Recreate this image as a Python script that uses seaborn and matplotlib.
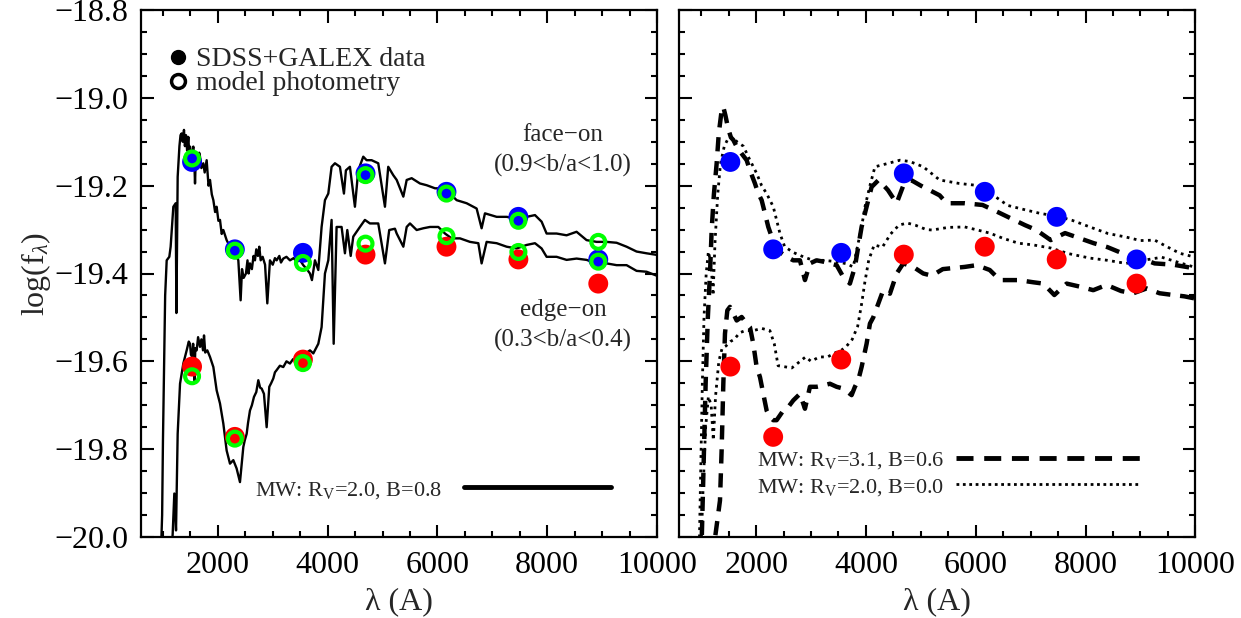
import matplotlib
matplotlib.use("Agg")
import matplotlib.pyplot as plt
import seaborn as sns
import pandas as pd
from matplotlib.lines import Line2D
from matplotlib.ticker import MultipleLocator, FuncFormatter

# ---------------- data ----------------
band_lam = [1530, 2310, 3550, 4690, 6165, 7475, 8930]   # FUV NUV u g r i z
face_obs = [-19.146, -19.345, -19.353, -19.172, -19.214, -19.271, -19.368]
face_mod = [-19.138, -19.348, -19.376, -19.176, -19.218, -19.280, -19.328]
edge_obs = [-19.612, -19.772, -19.596, -19.357, -19.339, -19.368, -19.423]
edge_mod = [-19.634, -19.776, -19.604, -19.332, -19.315, -19.351, -19.373]

# left panel: MW Rv=2.0, B=0.8 model spectra
lamL_face = [960, 985, 1000, 1020, 1040, 1068, 1116, 1140, 1189, 1232, 1245, 1268, 1300, 1320,
             1341, 1360, 1383, 1400, 1420, 1440, 1462, 1480, 1493, 1510, 1523, 1540, 1553,
             1570, 1584, 1600, 1614, 1640, 1660, 1675, 1700, 1735, 1760, 1796, 1830, 1857,
             1890, 1918, 1950, 1978, 2010, 2039, 2070, 2100, 2160, 2221, 2312, 2373, 2415,
             2440, 2470, 2512, 2540, 2560, 2585, 2620, 2650, 2676, 2700, 2730, 2755, 2780,
             2816, 2860, 2901, 2949, 3000, 3040, 3071, 3120, 3150, 3192, 3250, 3314, 3380,
             3435, 3500, 3556, 3620, 3678, 3714, 3769, 3830, 3890, 3951, 4012, 4072, 4133,
             4224, 4297, 4333, 4406, 4497, 4558, 4649, 4710, 4801, 4922, 5044, 5104, 5195,
             5258, 5379, 5440, 5531, 5682, 5804, 5956, 6107, 6229, 6350, 6532, 6714, 6805,
             6866, 7079, 7261, 7443, 7625, 7777, 7898, 7989, 8171, 8353, 8535, 8717, 8900,
             9082, 9264, 9446, 9628, 9810, 10016]
fL_face = [-20.05, -19.95, -19.78, -19.62, -19.45, -19.370, -19.362, -19.339, -19.248, -19.240,
           -19.490, -19.180, -19.110, -19.085, -19.081, -19.100, -19.073, -19.110, -19.085,
           -19.120, -19.089, -19.130, -19.111, -19.150, -19.142, -19.120, -19.111, -19.140,
           -19.195, -19.130, -19.127, -19.150, -19.125, -19.134, -19.160, -19.149, -19.170,
           -19.142, -19.200, -19.187, -19.220, -19.233, -19.260, -19.248, -19.280, -19.278,
           -19.310, -19.301, -19.324, -19.339, -19.351, -19.370, -19.461, -19.390, -19.410,
           -19.400, -19.370, -19.400, -19.377, -19.390, -19.360, -19.370, -19.345, -19.360,
           -19.339, -19.370, -19.362, -19.380, -19.468, -19.370, -19.380, -19.365, -19.370,
           -19.360, -19.375, -19.366, -19.362, -19.370, -19.365, -19.373, -19.370, -19.381,
           -19.390, -19.400, -19.415, -19.370, -19.392, -19.294, -19.233, -19.218, -19.157,
           -19.149, -19.157, -19.218, -19.165, -19.157, -19.248, -19.165, -19.134, -19.142,
           -19.142, -19.149, -19.248, -19.157, -19.176, -19.187, -19.225, -19.187, -19.183,
           -19.195, -19.199, -19.206, -19.206, -19.218, -19.233, -19.240, -19.252, -19.297,
           -19.263, -19.271, -19.271, -19.275, -19.271, -19.267, -19.282, -19.309, -19.309,
           -19.313, -19.305, -19.324, -19.328, -19.328, -19.330, -19.339, -19.350, -19.354,
           -19.358]

lamL_edge = [1150, 1177, 1207, 1238, 1268, 1311, 1371, 1432, 1470, 1493, 1510, 1535, 1550,
             1572, 1590, 1614, 1640, 1675, 1700, 1730, 1748, 1770, 1808, 1857, 1918, 1978,
             2039, 2100, 2160, 2221, 2282, 2342, 2403, 2464, 2490, 2525, 2550, 2585, 2620,
             2658, 2700, 2737, 2770, 2798, 2840, 2889, 2937, 2970, 3010, 3040, 3071, 3130,
             3192, 3250, 3314, 3370, 3435, 3500, 3556, 3620, 3678, 3739, 3830, 3890, 3951,
             4012, 4072, 4110, 4163, 4254, 4315, 4358, 4420, 4467, 4588, 4679, 4770, 4922,
             5044, 5122, 5226, 5258, 5379, 5440, 5500, 5622, 5743, 5865, 6016, 6138, 6259,
             6411, 6593, 6745, 6805, 6896, 7079, 7261, 7443, 7625, 7777, 7898, 7989, 8171,
             8353, 8535, 8717, 8900, 9082, 9264, 9446, 9628, 9810, 10016]
fL_edge = [-20.05, -19.993, -19.901, -19.985, -19.765, -19.651, -19.605, -19.575, -19.555,
           -19.560, -19.585, -19.590, -19.560, -19.643, -19.570, -19.575, -19.545, -19.567,
           -19.550, -19.575, -19.541, -19.580, -19.575, -19.590, -19.613, -19.666, -19.696,
           -19.742, -19.803, -19.833, -19.825, -19.844, -19.875, -19.795, -19.780, -19.765,
           -19.740, -19.712, -19.700, -19.681, -19.670, -19.643, -19.660, -19.662, -19.674,
           -19.750, -19.658, -19.650, -19.639, -19.625, -19.620, -19.610, -19.613, -19.600,
           -19.605, -19.595, -19.594, -19.590, -19.586, -19.580, -19.575, -19.582, -19.560,
           -19.522, -19.400, -19.370, -19.278, -19.560, -19.294, -19.294, -19.354, -19.301,
           -19.360, -19.316, -19.294, -19.278, -19.286, -19.286, -19.377, -19.301, -19.298,
           -19.309, -19.339, -19.294, -19.286, -19.301, -19.297, -19.294, -19.294, -19.309,
           -19.320, -19.320, -19.328, -19.331, -19.377, -19.328, -19.331, -19.339, -19.343,
           -19.335, -19.331, -19.343, -19.362, -19.362, -19.369, -19.366, -19.369, -19.377,
           -19.377, -19.381, -19.381, -19.394, -19.396, -19.406]

# right panel: MW Rv=3.1, B=0.6 (dashed)
lamR_face_a = [1000, 1040, 1080, 1120, 1159, 1190, 1230, 1280, 1320, 1370, 1400, 1440, 1490,
               1540, 1584, 1645, 1736, 1827, 1887, 1978, 2039, 2100, 2160, 2221, 2282, 2373,
               2464, 2555, 2676, 2798, 2889, 2980, 3101, 3223, 3344, 3466, 3587, 3708, 3799,
               3860, 3921, 3982, 4042, 4103, 4231, 4400, 4559, 4680, 4819, 5000, 5342, 5471,
               5800, 6126, 6400, 6649, 6900, 7104, 7366, 7627, 7900, 8150, 8400, 8672, 9000,
               9259, 9600, 9977]
fR_face_a = [-20.05, -19.85, -19.65, -19.50, -19.40, -19.30, -19.22, -19.15, -19.08, -19.03,
             -19.02, -19.04, -19.07, -19.09, -19.096, -19.111, -19.127, -19.142, -19.165,
             -19.195, -19.218, -19.233, -19.263, -19.294, -19.316, -19.339, -19.354, -19.362,
             -19.370, -19.370, -19.415, -19.377, -19.370, -19.373, -19.377, -19.381, -19.408,
             -19.423, -19.385, -19.339, -19.294, -19.263, -19.233, -19.203, -19.187, -19.210,
             -19.240, -19.200, -19.187, -19.200, -19.222, -19.240, -19.240, -19.244, -19.260,
             -19.275, -19.290, -19.301, -19.324, -19.308, -19.320, -19.331, -19.340, -19.354,
             -19.365, -19.377, -19.380, -19.388]
lamR_edge_a = [1200, 1341, 1371, 1402, 1432, 1475, 1523, 1584, 1645, 1736, 1827, 1887, 1948,
               2009, 2070, 2130, 2191, 2252, 2312, 2373, 2434, 2494, 2585, 2676, 2798, 2889,
               2980, 3101, 3223, 3344, 3466, 3587, 3739, 3799, 3860, 3921, 4012, 4073, 4133,
               4315, 4437, 4560, 4680, 4862, 5044, 5200, 5400, 5800, 6017, 6255, 6442, 6778,
               7050, 7231, 7432, 7656, 7900, 8141, 8384, 8650, 8870, 9113, 9350, 9598, 9800,
               10000]
fR_edge_a = [-20.05, -19.917, -19.803, -19.651, -19.537, -19.484, -19.476, -19.491, -19.507,
             -19.499, -19.514, -19.522, -19.560, -19.613, -19.636, -19.674, -19.712, -19.727,
             -19.734, -19.734, -19.723, -19.712, -19.704, -19.689, -19.674, -19.708, -19.658,
             -19.658, -19.655, -19.651, -19.658, -19.662, -19.677, -19.658, -19.643, -19.613,
             -19.560, -19.514, -19.500, -19.438, -19.446, -19.400, -19.377, -19.385, -19.400,
             -19.405, -19.390, -19.385, -19.381, -19.392, -19.415, -19.415, -19.420, -19.423,
             -19.449, -19.423, -19.430, -19.438, -19.426, -19.440, -19.445, -19.434, -19.445,
             -19.449, -19.452, -19.457]

# right panel: MW Rv=2.0, B=0.0 (dotted)
lamR_face_b = [960, 990, 1020, 1050, 1090, 1130, 1180, 1215, 1250, 1300, 1350, 1420, 1500,
               1580, 1650, 1766, 1880, 2009, 2100, 2191, 2312, 2434, 2520, 2676, 2859, 3040,
               3223, 3466, 3650, 3769, 3860, 3921, 3982, 4073, 4164, 4380, 4619, 4800, 5044,
               5342, 5700, 5995, 6300, 6583, 6900, 7169, 7500, 7758, 8100, 8410, 8737, 9000,
               9259, 9500, 9717, 10000]
fR_face_b = [-20.05, -19.85, -19.65, -19.50, -19.40, -19.35, -19.38, -19.45, -19.33, -19.22,
             -19.15, -19.11, -19.09, -19.09, -19.10, -19.11, -19.14, -19.172, -19.200, -19.218,
             -19.248, -19.309, -19.339, -19.352, -19.362, -19.370, -19.370, -19.373, -19.378,
             -19.385, -19.330, -19.294, -19.248, -19.200, -19.157, -19.150, -19.142, -19.145,
             -19.157, -19.187, -19.195, -19.199, -19.220, -19.245, -19.255, -19.263, -19.270,
             -19.279, -19.295, -19.309, -19.317, -19.325, -19.324, -19.340, -19.354, -19.363]
lamR_edge_b = [990, 1030, 1080, 1130, 1180, 1220, 1260, 1320, 1380, 1450, 1530, 1600, 1700,
               1800, 1950, 2100, 2250, 2330, 2400, 2500, 2650, 2800, 2900, 3000, 3150, 3300,
               3450, 3550, 3650, 3750, 3850, 3920, 3980, 4050, 4150, 4300, 4450, 4600, 4750,
               4900, 5100, 5207, 5500, 5800, 6000, 6255, 6500, 6778, 7050, 7366, 7700, 8084,
               8400, 8737, 9050, 9390, 9700, 10000]
fR_edge_b = [-20.05, -19.90, -19.75, -19.68, -19.70, -19.78, -19.68, -19.60, -19.57, -19.565,
             -19.555, -19.550, -19.535, -19.530, -19.530, -19.525, -19.530, -19.560, -19.610,
             -19.612, -19.615, -19.600, -19.590, -19.600, -19.590, -19.590, -19.580, -19.575,
             -19.565, -19.550, -19.520, -19.470, -19.420, -19.370, -19.335, -19.340, -19.310,
             -19.290, -19.285, -19.290, -19.300, -19.301, -19.295, -19.294, -19.300, -19.308,
             -19.320, -19.331, -19.335, -19.342, -19.355, -19.365, -19.370, -19.377, -19.370,
             -19.363, -19.375, -19.386]

x_ticks = [2000, 4000, 6000, 8000, 10000]
y_ticks = [-18.8, -19.0, -19.2, -19.4, -19.6, -19.8, -20.0]

# ---------------- style ----------------
sns.set_theme(style="ticks")
plt.rcParams["font.family"] = ["Liberation Serif", "DejaVu Serif"]
plt.rcParams["mathtext.fontset"] = "custom"
plt.rcParams["mathtext.rm"] = "Liberation Serif"
plt.rcParams["mathtext.it"] = "Liberation Serif:italic"
plt.rcParams["mathtext.bf"] = "Liberation Serif:bold"
plt.rcParams["axes.unicode_minus"] = True

W, H = 1241, 618
fig = plt.figure(figsize=(W / 100, H / 100), dpi=100)
axL = fig.add_axes([141 / W, 81 / H, 516 / W, 527 / H])
axR = fig.add_axes([679.3 / W, 81 / H, 516 / W, 527 / H])

BLUE, RED, GREEN = "#0000ff", "#ff0000", "#00ff00"


def line(ax, x, y, **kw):
    df = pd.DataFrame({"lam": x, "f": y})
    sns.lineplot(data=df, x="lam", y="f", ax=ax, estimator=None, sort=False,
                 color="black", legend=False, **kw)


def dots(ax, x, y, color, ring=False):
    df = pd.DataFrame({"lam": x, "f": y})
    if ring:
        sns.scatterplot(data=df, x="lam", y="f", ax=ax, s=100, marker="o",
                        facecolor="none", edgecolor=GREEN, linewidth=3.0,
                        legend=False, zorder=6)
    else:
        sns.scatterplot(data=df, x="lam", y="f", ax=ax, s=205, marker="o",
                        color=color, edgecolor="none", linewidth=0,
                        legend=False, zorder=5)


# left panel
line(axL, lamL_face, fL_face, lw=1.7)
line(axL, lamL_edge, fL_edge, lw=1.7)
dots(axL, band_lam, face_obs, BLUE)
dots(axL, band_lam, edge_obs, RED)
dots(axL, band_lam, face_mod, None, ring=True)
dots(axL, band_lam, edge_mod, None, ring=True)

# right panel
DASH = (0, (3.2, 2.2))
line(axR, lamR_face_a, fR_face_a, lw=3.2, linestyle=DASH)
line(axR, lamR_edge_a, fR_edge_a, lw=3.2, linestyle=DASH)
line(axR, lamR_face_b, fR_face_b, lw=2.0, linestyle=(0, (1, 1.6)))
line(axR, lamR_edge_b, fR_edge_b, lw=2.0, linestyle=(0, (1, 1.6)))
dots(axR, band_lam, face_obs, BLUE)
dots(axR, band_lam, edge_obs, RED)

yfmt = FuncFormatter(lambda v, p: f"{v:.1f}".replace("-", "\u2212"))
for ax in (axL, axR):
    ax.set_xlim(600, 10000)
    ax.set_ylim(-20.0, -18.8)
    ax.set_xticks(x_ticks)
    ax.set_yticks(y_ticks)
    ax.xaxis.set_minor_locator(MultipleLocator(500))
    ax.yaxis.set_minor_locator(MultipleLocator(0.05))
    ax.yaxis.set_major_formatter(yfmt)
    ax.tick_params(which="both", direction="in", top=True, right=True,
                   width=1.5, color="black", labelsize=23, colors="black")
    ax.tick_params(which="major", length=9)
    ax.tick_params(which="minor", length=4.5)
    ax.tick_params(axis="x", pad=10)
    ax.tick_params(axis="y", pad=9)
    for sp in ax.spines.values():
        sp.set_linewidth(1.6)
        sp.set_color("black")
    ax.set_xlabel("λ (A)", fontsize=23, labelpad=5)
    ax.set_ylabel("")
    ax.set_facecolor("white")

axR.tick_params(axis="y", labelleft=False)
axL.set_ylabel(r"log(f$_{\lambda}$)", fontsize=23, labelpad=1)

# annotations (left)
for txt, yy in (("face−on", -19.085), ("(0.9<b/a<1.0)", -19.153),
                ("edge−on", -19.484), ("(0.3<b/a<0.4)", -19.552)):
    axL.text(8290, yy, txt, fontsize=18, ha="center", va="center")

# legends
h1 = [Line2D([], [], ls="none", marker="o", ms=10, mfc="black", mec="black"),
      Line2D([], [], ls="none", marker="o", ms=10, mfc="none", mec="black", mew=2.5)]
leg1 = axL.legend(h1, ["SDSS+GALEX data", "model photometry"], loc="upper left",
                  bbox_to_anchor=(0.055, 0.93), frameon=False, fontsize=20,
                  handlelength=0.6, handletextpad=0.35, labelspacing=-0.05,
                  borderpad=0, borderaxespad=0)
axL.add_artist(leg1)
h2 = [Line2D([], [], color="black", lw=3.5)]
axL.legend(h2, [r"MW: R$_{\rm V}$=2.0, B=0.8"], loc="center right",
           bbox_to_anchor=(0.911, 0.089), frameon=False, fontsize=16,
           markerfirst=False, handlelength=6.6, handletextpad=1.0,
           borderpad=0, borderaxespad=0)

h3 = [Line2D([], [], color="black", lw=3.5, ls=(0, (3.5, 2.2))),
      Line2D([], [], color="black", lw=2.0, ls=(0, (1, 1.3)))]
axR.legend(h3, [r"MW: R$_{\rm V}$=3.1, B=0.6", r"MW: R$_{\rm V}$=2.0, B=0.0"],
           loc="center right", bbox_to_anchor=(0.893, 0.12), frameon=False,
           fontsize=16, markerfirst=False, handlelength=8.3, handletextpad=0.5,
           labelspacing=0.25, borderpad=0, borderaxespad=0)

fig.savefig("out.png", dpi=100, facecolor="white")
